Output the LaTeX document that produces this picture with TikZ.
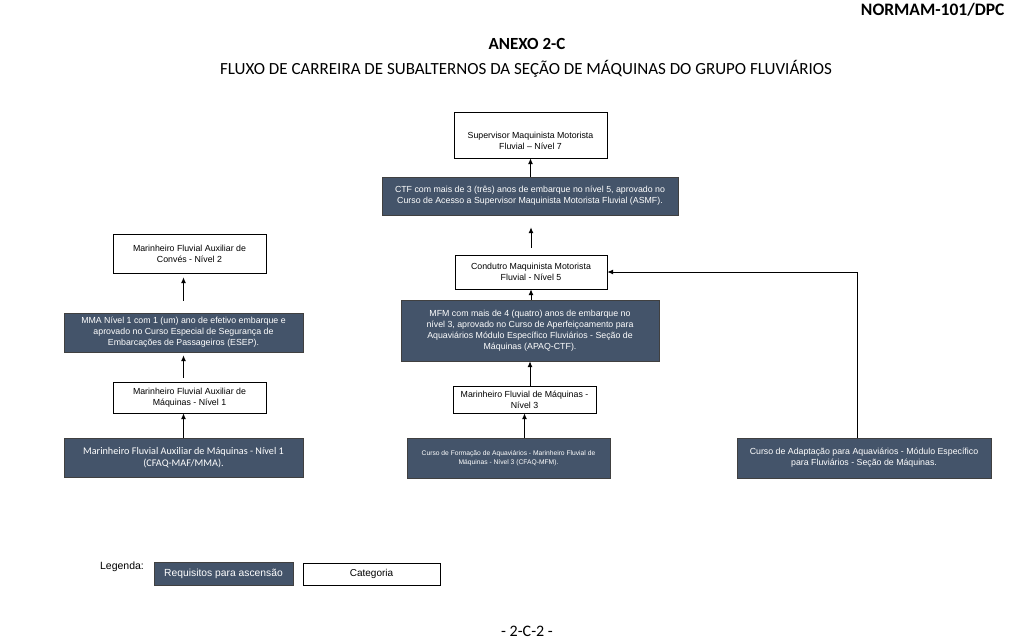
\documentclass[tikz,border=0pt]{standalone}
\usepackage{fontspec}
\setmainfont{Liberation Sans}
\newfontfamily\calib{Carlito}
\usetikzlibrary{arrows.meta}
\definecolor{reqblue}{RGB}{68,84,106}
\tikzset{
  req/.style={draw=black!75, fill=reqblue, text=white, align=center,
    inner sep=2pt, font=\fontsize{8.8}{11}\selectfont},
  cat/.style={draw=black, fill=white, align=center,
    inner sep=2pt, font=\fontsize{8.8}{11}\selectfont},
  sz/.style 2 args={minimum width=#1, minimum height=#2},
  up/.style={-{Latex[length=6pt,width=5pt]}, line width=1pt},
  link/.style={line width=1pt}
}
\begin{document}
\begin{tikzpicture}[x=1pt,y=-1pt]
\useasboundingbox (0,0) rectangle (1024,640);
% page head
\node[anchor=east, font=\calib\bfseries\fontsize{17.5}{20}\selectfont] (head) at (1008,10) {NORMAM-101/DPC};
\node[font=\calib\bfseries\fontsize{17}{20}\selectfont] (annex) at (527,44) {ANEXO 2-C};
\node[font=\calib\fontsize{17}{20}\selectfont] (title) at (526,69)
  {FLUXO DE CARREIRA DE SUBALTERNOS DA SEÇÃO DE MÁQUINAS DO GRUPO FLUVIÁRIOS};

% left column
\node[cat, sz={153}{39}] (conv) at (189.5,253.5) {Marinheiro Fluvial Auxiliar de\\Convés - Nível 2};
\node[req, sz={239}{39}] (mma) at (183.5,332.5)
  {MMA Nível 1 com 1 (um) ano de efetivo embarque e\\aprovado no Curso Especial de Segurança de\\Embarcações de Passageiros (ESEP).};
\node[cat, sz={153}{31}] (maq1) at (189.5,397.5) {Marinheiro Fluvial Auxiliar de\\Máquinas - Nível 1};
\node[req, sz={239}{39}, font=\calib\fontsize{10.2}{12}\selectfont] (cfaq) at (183.5,457.5)
  {Marinheiro Fluvial Auxiliar de Máquinas - Nível 1\\(CFAQ-MAF/MMA).};

% centre column
\node[cat, sz={153}{46}] (n7) at (530.5,135) {\\[8pt]Supervisor Maquinista Motorista\\Fluvial -- Nível 7};
\node[req, sz={296}{38}] (ctf) at (530,196)
  {CTF com mais de 3 (três) anos de embarque no nível 5, aprovado no\\Curso de Acesso a Supervisor Maquinista Motorista Fluvial (ASMF).};
\node[cat, sz={152}{34}] (cond) at (531,272) {Condutro Maquinista Motorista\\Fluvial - Nível 5};
\node[req, sz={258}{61}] (mfm) at (530,330.5)
  {MFM com mais de 4 (quatro) anos de embarque no\\nível 3, aprovado no Curso de Aperfeiçoamento para\\Aquaviários Módulo Específico Fluviários - Seção de\\Máquinas (APAQ-CTF).};
\node[cat, sz={143}{27}] (mfmaq) at (524.5,399.5) {Marinheiro Fluvial de  Máquinas -\\Nível 3};
\node[req, sz={203}{40}, font=\fontsize{6.7}{9}\selectfont] (form) at (508.5,458)
  {Curso de Formação de Aquaviários - Marinheiro Fluvial de\\Máquinas - Nível 3 (CFAQ-MFM).};

% right column
\node[req, sz={254}{40}] (adapt) at (864,458)
  {Curso de Adaptação para Aquaviários - Módulo Específico\\para Fluviários - Seção de Máquinas.};
\coordinate (bend) at (857,272);

% arrows
\draw[up, shorten >=4pt, shorten <=12pt] (mma.north) -- (conv.south -| mma.north);
\draw[up, shorten >=3pt, shorten <=4pt] (maq1.north -| mma.south) -- (mma.south);
\draw[up] (cfaq.north) -- (maq1.south -| cfaq.north);
\draw[up] (form.north -| mfmaq.south) -- (mfmaq.south);
\draw[up] (mfmaq.north -| mfm.south) -- (mfm.south);
\draw[up] (mfm.north -| cond.south) -- (cond.south);
\draw[up, shorten >=12pt, shorten <=7pt] (cond.north) -- (ctf.south -| cond.north);
\draw[up] (ctf.north -| n7.south) -- (n7.south);
\draw[up] (adapt.north -| bend) -- (bend) -- (cond.east);

% legend
\node[font=\fontsize{10.5}{12}\selectfont] (leg) at (122,567) {Legenda:};
\node[req, sz={139}{23}, font=\fontsize{10.3}{12}\selectfont] (lreq) at (223.5,573.5) {Requisitos para ascensão};
\node[cat, sz={137}{22}, font=\fontsize{10}{12}\selectfont] (lcat) at (371.5,574) {Categoria};

% page foot
\node[font=\calib\fontsize{16}{18}\selectfont] (foot) at (527,631) {- 2-C-2 -};
\end{tikzpicture}
\end{document}
